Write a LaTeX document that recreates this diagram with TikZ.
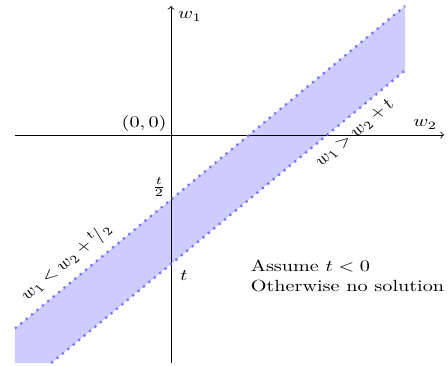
\documentclass[tikz,border=0pt]{standalone}
\usepackage{amsmath}
\begin{document}
\begin{tikzpicture}[x=38.61pt, y=39.91pt, yscale=0.8, transform shape,
  axis/.style={draw=black, line width=0.4pt, ->},
  bandfill/.style={fill=blue!20},
  bandline/.style={draw=blue!55, line width=1.1pt, dash pattern=on 1.1pt off 2.37pt},
  lbl/.style={inner sep=3.33pt}]
\useasboundingbox (-2.1923,2.093) rectangle (3.5513,-3.566);
% coordinates
\coordinate (o) at (0,0);
\coordinate (xl) at (-2,0);
\coordinate (xr) at (3.5,0);
\coordinate (yb) at (0,-3.535);
\coordinate (yt) at (0,2);
\coordinate (ua) at (-2,-3);
\coordinate (ub) at (3,2);
\coordinate (lb) at (3,1);
\coordinate (la) at (-1.535,-3.535);
\coordinate (bl) at (-2,-3.535);
% band
\fill[bandfill] (ua) -- (ub) -- (lb) -- (la) -- (bl) -- cycle;
% axes
\draw[axis] (xl) -- (xr);
\draw[axis] (yb) -- (yt);
% boundary lines
\draw[bandline] (ua) -- (ub);
\draw[bandline] (la) -- (lb);
% labels
\node[lbl, anchor=north west] (lw1) at (yt) {$w_1$};
\node[lbl, anchor=south east] (lw2) at (xr) {$w_2$};
\node[inner sep=2pt, anchor=south east] (lo) at (o) {$(0,0)$};
\node[lbl] (lt2) at (-0.154,-0.806) {$\frac{t}{2}$};
\node[lbl] (lt) at (0.167,-2.186) {$t$};
\node[lbl, align=left] (note) at (2.263,-2.186) {Assume $t<0$\\Otherwise no solution};
\node[lbl, rotate=46] (cup) at (2.359,0.031) {$w_1 > w_2 + t$};
\node[lbl, rotate=46] (clo) at (-1.346,-1.969) {$w_1 < w_2 + {}^{t}\!/_{2}$};
\end{tikzpicture}
\end{document}
